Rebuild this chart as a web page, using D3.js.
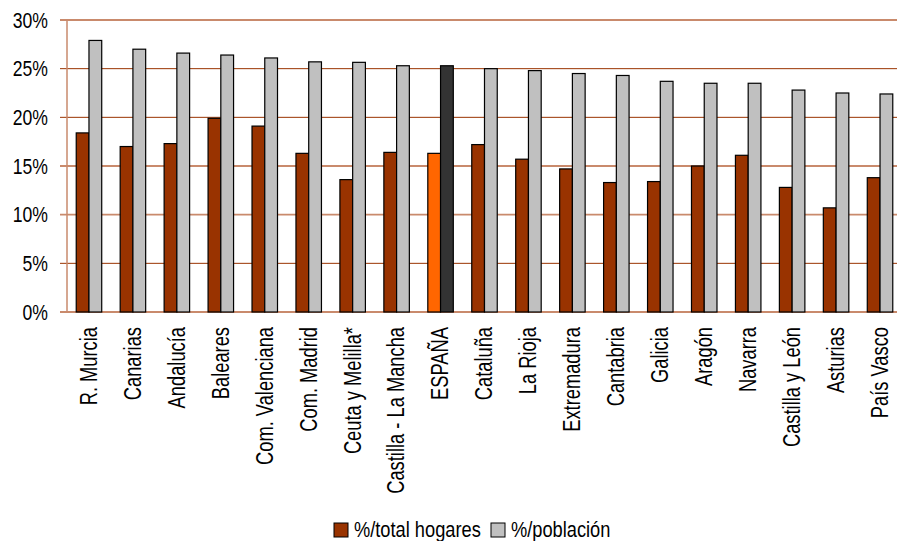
<!DOCTYPE html>
<html>
<head>
<meta charset="utf-8">
<title>Hogares y población por comunidad</title>
<script src="https://d3js.org/d3.v7.min.js"></script>
<style>
  body { margin: 0; background: #fff; }
  text { font-family: "Liberation Sans", Arial, sans-serif; fill: #000; }
</style>
</head>
<body>
<svg id="chart" width="897" height="541"></svg>
<script>
// datos
var regiones = ["R. Murcia", "Canarias", "Andalucía", "Baleares", "Com. Valenciana",
  "Com. Madrid", "Ceuta y Melilla*", "Castilla - La Mancha", "ESPAÑA", "Cataluña",
  "La Rioja", "Extremadura", "Cantabria", "Galicia", "Aragón", "Navarra",
  "Castilla y León", "Asturias", "País Vasco"];
var hogares = [18.4, 17.0, 17.3, 19.9, 19.1, 16.3, 13.6, 16.4, 16.3, 17.2,
  15.7, 14.7, 13.3, 13.4, 15.0, 16.1, 12.8, 10.7, 13.8];
var poblacion = [27.9, 27.0, 26.6, 26.4, 26.1, 25.7, 25.65, 25.3, 25.3, 25.0,
  24.8, 24.5, 24.3, 23.7, 23.5, 23.5, 22.8, 22.5, 22.4];
var series = ["%/total hogares", "%/población"];
var yTicks = [0, 5, 10, 15, 20, 25, 30];

var colores = { "%/total hogares": "#993300", "%/población": "#c0c0c0" };
var coloresEsp = { "%/total hogares": "#ff6600", "%/población": "#333333" };

var svg = d3.select("#chart");
var margenIzq = 67, margenSup = 20, base = 312, margenDer = 902;

var x0 = d3.scaleBand().domain(regiones).range([margenIzq, margenDer])
  .paddingInner(0.42).paddingOuter(0.21);
var x1 = d3.scaleBand().domain(series).range([0, x0.bandwidth()]);
var y = d3.scaleLinear().domain([0, 30]).range([base, margenSup]);

// rejilla
svg.append("g").selectAll("line")
  .data(yTicks)
  .enter()
  .append("line")
  .attr("x1", margenIzq - 7)
  .attr("x2", 897)
  .attr("y1", d => y(d))
  .attr("y2", d => y(d))
  .attr("stroke", d => (d == 25 || d == 20 || d == 5) ? "#993300" : "#c98a6c")
  .attr("stroke-width", d => (d == 25 || d == 20 || d == 5) ? 1 : 1.8);

svg.append("line")
  .attr("x1", margenIzq).attr("x2", margenIzq)
  .attr("y1", margenSup).attr("y2", base)
  .attr("stroke", "#c98a6c").attr("stroke-width", 1.5);

// etiquetas eje y
svg.append("g").selectAll("text")
  .data(yTicks)
  .enter()
  .append("text")
  .attr("transform", d => "translate(48," + y(d) + ") scale(0.8,1)")
  .attr("text-anchor", "end")
  .attr("dominant-baseline", "central")
  .style("font-size", "22px")
  .text(d => d + "%");

// barras
var filas = regiones.map(function(r, i) {
  return { region: r, valores: [
    { serie: series[0], valor: hogares[i] },
    { serie: series[1], valor: poblacion[i] }
  ]};
});

var grupos = svg.append("g").selectAll("g")
  .data(filas)
  .enter()
  .append("g")
  .attr("transform", d => "translate(" + x0(d.region) + ",0)");

grupos.selectAll("rect")
  .data(d => d.valores.map(v => Object.assign({ region: d.region }, v)))
  .enter()
  .append("rect")
  .attr("x", d => x1(d.serie))
  .attr("width", x1.bandwidth())
  .attr("y", d => y(d.valor))
  .attr("height", d => y(0) - y(d.valor))
  .attr("fill", d => d.region == "ESPAÑA" ? coloresEsp[d.serie] : colores[d.serie])
  .attr("stroke", "#000")
  .attr("stroke-width", 1.2);

// etiquetas eje x
svg.append("g").selectAll("text")
  .data(regiones)
  .enter()
  .append("text")
  .attr("transform", d => "translate(" + (x0(d) + x0.bandwidth() / 2) + ",327) rotate(-90) scale(0.763,1)")
  .attr("text-anchor", "end")
  .attr("dominant-baseline", "central")
  .style("font-size", "24px")
  .text(d => d);

// leyenda
var leyenda = svg.append("g").selectAll("g")
  .data(series)
  .enter()
  .append("g")
  .attr("transform", (d, i) => "translate(" + (i == 0 ? 334 : 491) + ",523)");

leyenda.append("rect")
  .attr("width", 14).attr("height", 14)
  .attr("fill", d => colores[d])
  .attr("stroke", "#000").attr("stroke-width", 1);

leyenda.append("text")
  .attr("transform", "translate(20,14) scale(0.83,1)")
  .style("font-size", "22px")
  .text(d => d);
</script>
</body>
</html>
